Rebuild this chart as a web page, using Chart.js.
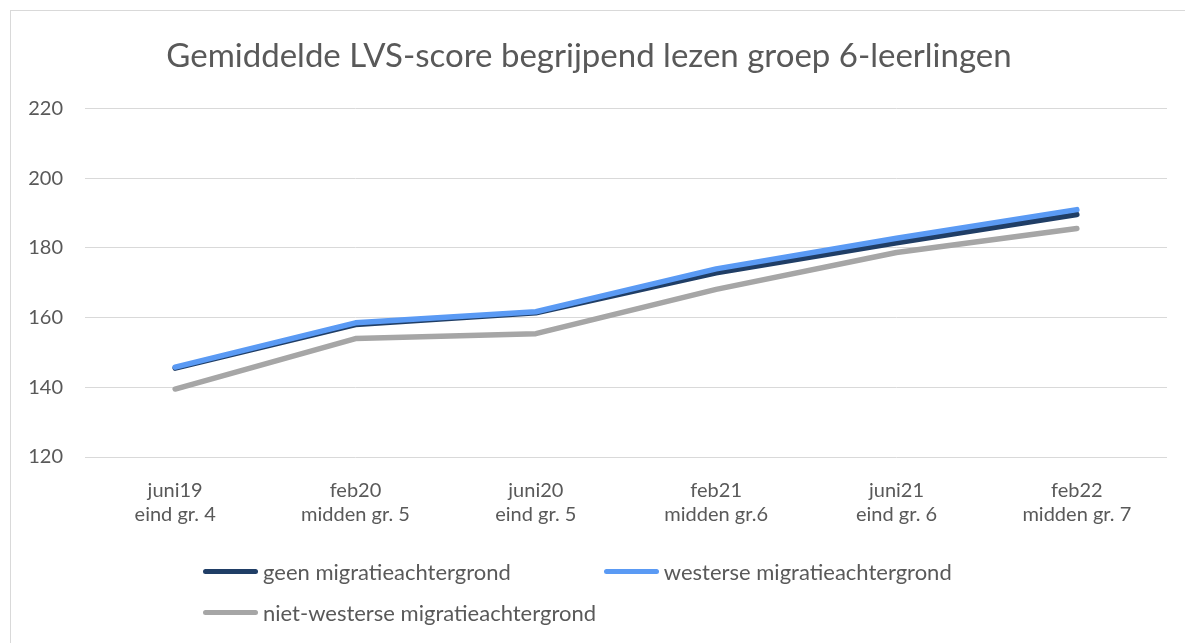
<!DOCTYPE html>
<html>
<head>
<meta charset="utf-8">
<script src="https://cdn.jsdelivr.net/npm/chart.js@4.4.1/dist/chart.umd.min.js"></script>
<style>
  html, body { margin: 0; padding: 0; background: #fff; overflow: hidden; }
  body { width: 1185px; height: 643px; position: relative; font-family: Lato, "Open Sans", sans-serif; }
  #frame { position: absolute; left: 10px; top: 10px; width: 1200px; height: 700px; border: 1px solid #d9d9d9; }
  #chartBox { position: absolute; left: 0; top: 0; width: 1174px; height: 545px; }
  #legend { position: absolute; left: 192px; top: 540px; width: 790px; display: flex; flex-wrap: wrap; column-gap: 93px; }
  .item { display: flex; align-items: center; height: 41px; font-size: 22px; color: #595959; }
  .swatch { width: 55px; height: 5px; border-radius: 3px; margin-right: 5px; }
</style>
</head>
<body>
<div id="frame">
  <div id="chartBox"><canvas id="scoreChart"></canvas></div>
  <div id="legend"></div>
</div>
<script>
// data
const categories = [
    ["juni19", "eind gr. 4"],
    ["feb20", "midden gr. 5"],
    ["juni20", "eind gr. 5"],
    ["feb21", "midden gr.6"],
    ["juni21", "eind gr. 6"],
    ["feb22", "midden gr. 7"]
];
const geenMigratie = [145.5, 158.0, 161.4, 172.9, 181.5, 189.6];
const westers = [145.8, 158.5, 161.7, 174.0, 182.8, 191.0];
const nietWesters = [139.5, 154.0, 155.4, 168.1, 178.7, 185.6];
const yTicks = [120, 140, 160, 180, 200, 220];

const textColor = "#595959";

function lineSet(label, data, color, order) {
    return {
        label: label,
        data: data,
        borderColor: color,
        backgroundColor: color,
        borderWidth: 5.5,
        borderCapStyle: "round",
        borderJoinStyle: "round",
        pointRadius: 0,
        tension: 0,
        order: order
    };
}

const ctx = document.getElementById("scoreChart").getContext("2d");
const myChart = new Chart(ctx, {
    type: "line",
    data: {
        labels: categories,
        datasets: [
            lineSet("geen migratieachtergrond", geenMigratie, "#203e66", 1),
            lineSet("westerse migratieachtergrond", westers, "#5a9af4", 0),
            lineSet("niet-westerse migratieachtergrond", nietWesters, "#a6a6a6", 2)
        ]
    },
    options: {
        responsive: true,
        maintainAspectRatio: false,
        animation: false,
        layout: { padding: { left: 0, right: 18, top: 0, bottom: 0 } },
        plugins: {
            legend: { display: false },
            tooltip: { enabled: false },
            title: {
                display: true,
                text: "Gemiddelde LVS-score begrijpend lezen groep 6-leerlingen",
                color: textColor,
                font: { family: "Lato", size: 33, weight: "normal" },
                padding: { top: 26, bottom: 32 }
            }
        },
        scales: {
            x: {
                offset: true,
                grid: { display: false, drawTicks: false },
                border: { display: false },
                ticks: {
                    color: textColor,
                    font: { family: "Lato", size: 20, lineHeight: 1.2 },
                    padding: 22,
                    maxRotation: 0
                },
                afterFit: (scale) => { scale.height = 99; }
            },
            y: {
                min: 120,
                max: 220,
                afterBuildTicks: (scale) => { scale.ticks = yTicks.map(v => ({ value: v })); },
                grid: { color: "#d9d9d9", lineWidth: 1, drawTicks: false },
                border: { display: false },
                ticks: {
                    color: textColor,
                    font: { family: "Lato", size: 20 },
                    padding: 22
                },
                afterFit: (scale) => { scale.width = 74; }
            }
        }
    }
});

// legend as html so the second row starts at the left like the reference
const legendBox = document.getElementById("legend");
myChart.data.datasets.forEach(ds => {
    const item = document.createElement("div");
    item.className = "item";
    const sw = document.createElement("span");
    sw.className = "swatch";
    sw.style.background = ds.borderColor;
    item.appendChild(sw);
    item.appendChild(document.createTextNode(ds.label));
    legendBox.appendChild(item);
});
</script>
</body>
</html>
